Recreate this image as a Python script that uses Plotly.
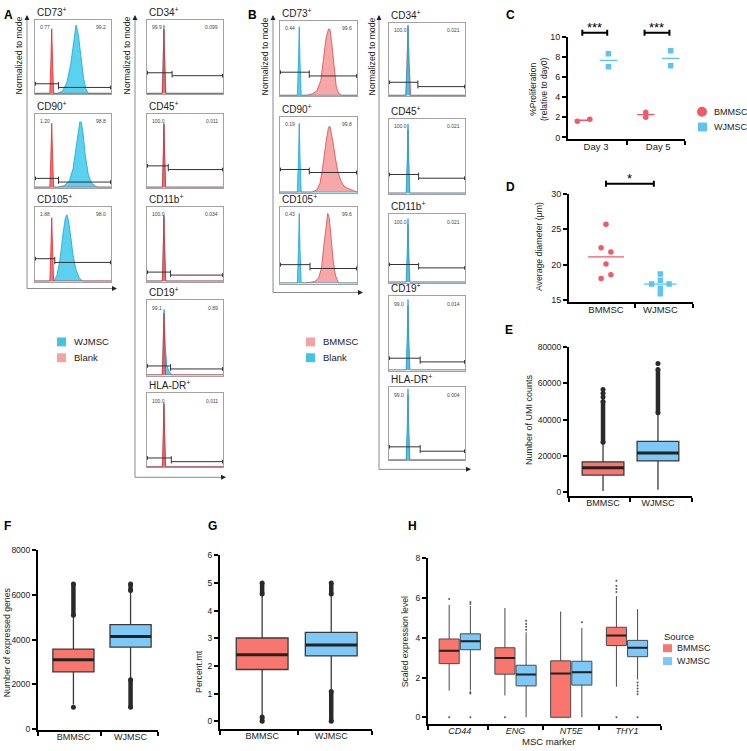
import numpy as np
import plotly.graph_objects as go

# ---------------- A: WJMSC flow cytometry (x = % of log window, y = % of mode) ----------------
a_markers = ["CD73", "CD90", "CD105", "CD34", "CD45", "CD11b", "CD19", "HLA-DR"]
a_pct_left = ["0.77", "1.20", "1.88", "99.9", "100.0", "100.0", "99.1", "100.0"]
a_pct_right = ["99.2", "98.8", "98.0", "0.099", "0.011", "0.034", "0.89", "0.011"]
a_gate_split = [31, 31, 26, 33, 28, 31, 31, 32]
a_gate_left = [13, 12, 30, 28, 29, 12, 12, 12]
a_gate_right = [8, 7, 25, 24, 24, 8, 8, 7]
a_wjmsc = {
    "CD73": ([0, 30, 36, 42, 47, 51, 54, 57, 61, 64, 67, 70, 100], [0, 0, 3, 15, 40, 75, 93, 80, 45, 20, 6, 0, 0]),
    "CD90": ([0, 30, 38, 45, 50, 54, 57, 59, 61, 63, 66, 70, 74, 80, 83, 100],
             [0, 0, 2, 8, 25, 55, 80, 89, 88, 75, 45, 18, 6, 1, 0, 0]),
    "CD105": ([0, 25, 29, 33, 37, 40, 42, 44, 47, 50, 54, 58, 62, 100], [0, 0, 8, 30, 65, 85, 89, 82, 60, 35, 15, 5, 0, 0]),
    "CD34": ([0, 20, 21.2, 22.3, 23.5, 25, 100], [0, 0, 45, 93, 40, 0, 0]),
    "CD45": ([0, 20.5, 21.5, 22.3, 23.2, 24.5, 100], [0, 0, 40, 85, 40, 0, 0]),
    "CD11b": ([0, 20.3, 21.3, 22.3, 23.3, 24.6, 100], [0, 0, 42, 89, 42, 0, 0]),
    "CD19": ([0, 20, 21.2, 22.5, 24, 26, 29, 33, 100], [0, 0, 40, 88, 40, 12, 5, 0, 0]),
    "HLA-DR": ([0, 20.5, 21.5, 22.3, 23.2, 24.5, 100], [0, 0, 40, 85, 40, 0, 0]),
}
a_blank = {
    "CD73": ([0, 19.5, 20.8, 22, 23.2, 24.5, 100], [0, 0, 40, 88, 40, 0, 0]),
    "CD90": ([0, 19.5, 20.8, 22, 23.2, 24.5, 100], [0, 0, 40, 87, 40, 0, 0]),
    "CD105": ([0, 19.5, 20.8, 22, 23.2, 24.5, 100], [0, 0, 40, 85, 40, 0, 0]),
    "CD34": ([0, 20.3, 21.3, 22.3, 23.3, 24.5, 100], [0, 0, 40, 87, 40, 0, 0]),
    "CD45": ([0, 20.3, 21.3, 22.3, 23.3, 24.5, 100], [0, 0, 40, 87, 40, 0, 0]),
    "CD11b": ([0, 20.3, 21.3, 22.3, 23.3, 24.5, 100], [0, 0, 40, 87, 40, 0, 0]),
    "CD19": ([0, 20.3, 21.3, 22.3, 23.3, 24.5, 100], [0, 0, 38, 83, 38, 0, 0]),
    "HLA-DR": ([0, 20.3, 21.3, 22.3, 23.3, 24.5, 100], [0, 0, 40, 87, 40, 0, 0]),
}

# ---------------- B: BMMSC flow cytometry ----------------
b_markers = a_markers
b_pct_left = ["0.44", "0.19", "0.43", "100.0", "100.0", "100.0", "99.0", "99.0"]
b_pct_right = ["99.6", "99.8", "99.6", "0.021", "0.021", "0.021", "0.014", "0.004"]
b_gate_split = [38, 38, 39, 38, 39, 39, 41, 41]
b_gate_left = [31, 30, 24, 18, 25, 26, 16, 18]
b_gate_right = [26, 26, 19, 12, 20, 21, 11, 12]
b_bmmsc = {
    "CD73": ([0, 35, 42, 48, 53, 57, 60, 63, 65, 67, 70, 73, 76, 80, 100],
             [0, 0, 2, 6, 20, 50, 78, 89, 88, 72, 40, 12, 3, 0, 0]),
    "CD90": ([0, 42, 48, 52, 55, 58, 60, 62, 63, 65, 67, 69, 72, 75, 79, 83, 88, 92, 96, 100],
             [0, 0, 3, 12, 30, 55, 68, 80, 86, 87, 78, 65, 45, 28, 15, 8, 5, 3, 1, 0]),
    "CD105": ([0, 32, 40, 45, 50, 54, 57, 60, 62, 64, 66, 69, 72, 76, 100],
              [0, 0, 1, 2, 6, 20, 50, 80, 91, 85, 60, 30, 10, 0, 0]),
    "CD34": ([0, 22, 23.5, 25, 26.5, 28.5, 100], [0, 0, 40, 95, 45, 0, 0]),
    "CD45": ([0, 23, 24.2, 25, 25.8, 27, 100], [0, 0, 35, 85, 35, 0, 0]),
    "CD11b": ([0, 23, 24.2, 25, 25.8, 27, 100], [0, 0, 35, 85, 35, 0, 0]),
    "CD19": ([0, 23, 24.2, 25, 25.8, 27, 100], [0, 0, 35, 88, 35, 0, 0]),
    "HLA-DR": ([0, 23, 24.2, 25, 25.8, 27, 100], [0, 0, 35, 90, 35, 0, 0]),
}
b_blank = {
    "CD73": ([0, 22.5, 24, 25, 26, 27.5, 100], [0, 0, 45, 92, 45, 0, 0]),
    "CD90": ([0, 22.5, 24, 25, 26, 27.5, 100], [0, 0, 45, 91, 45, 0, 0]),
    "CD105": ([0, 22.5, 24, 25, 26, 27.5, 100], [0, 0, 45, 91, 45, 0, 0]),
    "CD34": ([0, 22.5, 24, 25, 26, 27.5, 100], [0, 0, 45, 97, 45, 0, 0]),
    "CD45": ([0, 22.5, 24, 25, 26, 27.5, 100], [0, 0, 45, 93, 45, 0, 0]),
    "CD11b": ([0, 22.5, 24, 25, 26, 27.5, 100], [0, 0, 45, 94, 45, 0, 0]),
    "CD19": ([0, 22.5, 24, 25, 26, 27.5, 100], [0, 0, 45, 96, 45, 0, 0]),
    "HLA-DR": ([0, 22.5, 24, 25, 26, 27.5, 100], [0, 0, 45, 98, 45, 0, 0]),
}

# ---------------- C: proliferation ----------------
c_days = ["Day 3", "Day 5"]
c_bmmsc = [[1.6, 1.8], [2.5, 2.0]]
c_wjmsc = [[8.3, 7.0], [8.6, 7.1]]
c_sig = ["***", "***"]

# ---------------- D: cell diameter ----------------
d_groups = ["BMMSC", "WJMSC"]
d_bmmsc = [25.7, 22.4, 21.8, 20.1, 18.6, 18.05]
d_wjmsc = [18.7, 17.8, 17.3, 17.3, 16.7, 15.9]

# ---------------- E/F/G: QC box plots (q1, median, q3, whisker ends) ----------------
e_q1, e_med, e_q3 = [9500, 17300], [13500, 21600], [16800, 28100]
e_low, e_high = [800, 1500], [27600, 43800]
e_runs = [[(27600, 50000)], [(43800, 67500)]]
e_dots = [[52500, 54500, 56500], [70800]]

f_q1, f_med, f_q3 = [2560, 3670], [3100, 4150], [3580, 4680]
f_low, f_high = [1100, 2210], [5100, 6200]
f_runs = [[(5100, 6500)], [(6200, 6500), (980, 2210)]]
f_dots = [[980], []]

g_q1, g_med, g_q3 = [1.87, 2.36], [2.40, 2.76], [3.01, 3.21]
g_low, g_high = [0.18, 1.07], [4.6, 4.6]
g_runs = [[(4.6, 5.0), (0.0, 0.15)], [(4.6, 5.0), (0.0, 1.07)]]
g_dots = [[], []]

# ---------------- H: MSC marker expression ----------------
h_markers = ["CD44", "ENG", "NT5E", "THY1"]
h_bm_q1 = [2.70, 2.17, 0.0, 3.61]
h_bm_med = [3.35, 2.98, 2.20, 4.11]
h_bm_q3 = [3.94, 3.50, 2.84, 4.53]
h_bm_low = [1.34, 1.10, 0.0, 1.54]
h_bm_high = [5.65, 5.50, 5.32, 6.10]
h_bm_out = [[0.0, 5.95], [0.0], [], [0.0, 6.3, 6.45, 6.6, 6.87]]
h_wj_q1 = [3.40, 1.58, 1.62, 3.05]
h_wj_med = [3.83, 2.15, 2.27, 3.50]
h_wj_q3 = [4.20, 2.62, 2.82, 3.87]
h_wj_low = [1.35, 0.0, 0.0, 1.90]
h_wj_high = [5.60, 4.28, 4.50, 5.44]
h_wj_out = [[0.0, 1.2, 1.26, 5.7, 5.8], [4.4, 4.55, 4.7, 4.86], [4.78], [0.0, 1.16, 1.3, 1.45, 1.6, 1.75]]

# ---------------- styling ----------------
W, H = 747, 751
FONT = "Arial, Liberation Sans, sans-serif"
BM, WJ = "#EF5A66", "#5DC4EF"
BM_BOX, WJ_BOX = "#F8766D", "#7DC8F6"
CYAN = ("rgba(72,204,236,0.9)", "#19A6CF")
RED = ("rgba(238,105,105,0.92)", "#E22B2B")
PINK = ("rgba(245,162,162,0.95)", "#D84A4A")

fig = go.Figure()
lay, notes, shapes = {}, [], []


def px(x):
    return x / W


def py(y):
    return 1 - y / H


def add_axes(box, xa, ya):
    x0, x1, y0, y1 = box
    k = sum(1 for key in lay if key.startswith("xaxis")) + 1
    s = "" if k == 1 else str(k)
    lay["xaxis" + s] = dict(domain=[px(x0), px(x1)], anchor="y" + s, **xa)
    lay["yaxis" + s] = dict(domain=[py(y1), py(y0)], anchor="x" + s, **ya)
    return "x" + s, "y" + s


def text(x, y, s, size=9, **kw):
    d = dict(x=px(x), y=py(y), xref="paper", yref="paper", text=s, showarrow=False,
             xanchor="center", yanchor="middle", font=dict(size=size, color="#222", family=FONT))
    d.update(kw)
    notes.append(d)


def line(x0, y0, x1, y1, color="#8a8a8a", width=1, **kw):
    d = dict(type="line", x0=px(x0), y0=py(y0), x1=px(x1), y1=py(y1), xref="paper", yref="paper",
             line=dict(color=color, width=width))
    d.update(kw)
    shapes.append(d)


FRAME = dict(range=[-0.8, 100], showline=True, mirror=True, linecolor="#a2a2a2", linewidth=1, ticks="",
             showticklabels=False, showgrid=False, zeroline=False, layer="below traces")


def flow_panel(boxes, markers, back, front, back_col, front_col, pct_l, pct_r, split, lv_l, lv_r):
    for i, m in enumerate(markers):
        xa, ya = add_axes(boxes[i], dict(FRAME, range=[0, 100]), FRAME)
        for (xs, ys), (fc, lc) in ((back[m], back_col), (front[m], front_col)):
            fig.add_trace(go.Scatter(x=xs, y=ys, mode="lines", fill="tozeroy", fillcolor=fc,
                                     line=dict(color=lc, width=0.8), xaxis=xa, yaxis=ya,
                                     showlegend=False, hoverinfo="skip"))
        g, hi, lo, t = split[i], lv_l[i], lv_r[i], 2.5
        gx = [0.6, g, None, g, 99.4, None, 0.6, 0.6, None, g, g, None, 99.4, 99.4]
        gy = [hi, hi, None, lo, lo, None, hi - t, hi + t, None, lo - t, hi + t, None, lo - t, lo + t]
        fig.add_trace(go.Scatter(x=gx, y=gy, mode="lines", line=dict(color="#333", width=1),
                                 xaxis=xa, yaxis=ya, showlegend=False, hoverinfo="skip"))
        base = dict(xref=xa + " domain", yref=ya + " domain", showarrow=False)
        notes.append(dict(base, x=0, y=1, xanchor="left", yanchor="bottom", yshift=0,
                          text=m + "<sup>+</sup>", font=dict(size=10, color="#222", family=FONT)))
        notes.append(dict(base, x=0.04, y=0.97, xanchor="left", yanchor="top", text=pct_l[i],
                          font=dict(size=5, color="#444", family=FONT)))
        notes.append(dict(base, x=0.96, y=0.97, xanchor="right", yanchor="top", text=pct_r[i],
                          font=dict(size=5, color="#444", family=FONT)))


def flow_axis(x, ytop, ybot, xright):
    line(x, ybot, x, ytop + 3)
    line(x, ybot, xright - 3, ybot)
    notes.append(dict(x=px(x), y=py(ytop), xref="paper", yref="paper", ax=0, ay=6, text="",
                      showarrow=True, arrowhead=2, arrowsize=1, arrowwidth=1, arrowcolor="#222"))
    notes.append(dict(x=px(xright), y=py(ybot), xref="paper", yref="paper", ax=-6, ay=0, text="",
                      showarrow=True, arrowhead=2, arrowsize=1, arrowwidth=1, arrowcolor="#222"))


# ---- panel A ----
a_boxes = [(35, 111, 15, 90), (35, 111, 110, 185), (35, 111, 204, 280), (147, 223, 15, 90),
           (147, 223, 110, 185), (147, 223, 204, 280), (147, 223, 299, 375), (147, 223, 393, 468)]
flow_panel(a_boxes, a_markers, a_wjmsc, a_blank, CYAN, RED, a_pct_left, a_pct_right,
           a_gate_split, a_gate_left, a_gate_right)
flow_axis(27, 10, 287, 117)
flow_axis(135, 10, 478, 226)
for x in (19, 127):
    text(x, 51, "Normalized to mode", 8.7, textangle=-90)

# ---- panel B ----
b_boxes = [(280, 357, 16, 92), (280, 357, 113, 190), (280, 357, 204, 282), (389, 465, 18, 92),
           (389, 465, 115, 191), (389, 465, 212, 281), (389, 465, 295, 370), (389, 465, 387, 461)]
flow_panel(b_boxes, b_markers, b_bmmsc, b_blank, PINK, ("rgba(60,196,232,0.85)", "#19A6CF"),
           b_pct_left, b_pct_right, b_gate_split, b_gate_left, b_gate_right)
flow_axis(273, 10, 291, 363)
flow_axis(379, 10, 470, 471)
for x in (265, 372):
    text(x, 52, "Normalized to mode", 8.7, textangle=-90)

# legends for A and B
for (lx, items) in ((57, [("WJMSC", "#45C3E3"), ("Blank", "#F4A3A3")]),
                    (306, [("BMMSC", "#F4A3A3"), ("Blank", "#45C3E3")])):
    for k, (lab, col) in enumerate(items):
        yc = 341 + 16 * k
        shapes.append(dict(type="rect", xref="paper", yref="paper", x0=px(lx), x1=px(lx + 9),
                           y0=py(yc + 4.5), y1=py(yc - 4.5), fillcolor=col, line=dict(width=0)))
        text(lx + 15, yc, lab, 9.5, xanchor="left")

# ---- shared axis styles for C-H ----
TICKFONT = dict(size=8.5, color="#222", family=FONT)
MINOR = dict(ticks="outside", ticklen=4, tickwidth=1.5, tickcolor="black")
AX = dict(showline=True, linecolor="black", linewidth=2, ticks="", showgrid=False, zeroline=False,
          ticklabelstandoff=-3, tickfont=dict(size=9.5, color="#222", family=FONT))
AY = dict(showline=True, linecolor="black", linewidth=2, ticks="outside", ticklen=4, tickwidth=1.5,
          tickcolor="black", showgrid=False, zeroline=False, tickfont=TICKFONT)

# ---- panel C ----
xa, ya = add_axes((568, 685, 32, 136),
                  dict(AX, range=[-0.45, 1.43], tickvals=[0, 1], ticktext=c_days,
                       minor=dict(MINOR, tickvals=[0.5, 1.43])),
                  dict(AY, range=[-0.2, 10], tickvals=list(range(0, 11, 2)), tickfont=dict(TICKFONT, size=9)))
c_bm_jit, c_wj_jit = [[-0.1, 0.1], [0, 0]], [[0, 0], [0, 0]]
for d in range(2):
    for vals, jit, off, col, sym in ((c_bmmsc[d], c_bm_jit[d], -0.2, BM, "circle"),
                                     (c_wjmsc[d], c_wj_jit[d], 0.2, WJ, "square")):
        fig.add_trace(go.Scatter(x=[d + off + j for j in jit], y=vals, mode="markers",
                                 marker=dict(color=col, size=5.5, symbol=sym), xaxis=xa, yaxis=ya,
                                 showlegend=False, hoverinfo="skip"))
        m = float(np.mean(vals))
        fig.add_trace(go.Scatter(x=[d + off - 0.14, d + off + 0.14], y=[m, m], mode="lines",
                                 line=dict(color=col, width=1.3), xaxis=xa, yaxis=ya,
                                 showlegend=False, hoverinfo="skip"))
    shapes.append(dict(type="path", xref=xa, yref="paper", line=dict(color="black", width=2),
                       path=f"M{d - 0.22},{py(25)} L{d - 0.22},{py(31)} M{d - 0.22},{py(28)} "
                            f"L{d + 0.18},{py(28)} M{d + 0.18},{py(25)} L{d + 0.18},{py(31)}"))
    notes.append(dict(x=d - 0.02, y=py(23), xref=xa, yref="paper", text=c_sig[d], showarrow=False,
                      font=dict(size=13, color="black", family=FONT), yanchor="middle"))
text(539, 86, "%Proliferation<br>(relative to day0)", 8.5, textangle=-90)
shapes.append(dict(type="circle", xref="paper", yref="paper", x0=px(697), x1=px(707), y0=py(113),
                   y1=py(103), fillcolor=BM, line=dict(width=0)))
shapes.append(dict(type="rect", xref="paper", yref="paper", x0=px(698), x1=px(707), y0=py(128),
                   y1=py(119), fillcolor=WJ, line=dict(width=0)))
text(712, 108, "BMMSC", 9, xanchor="left")
text(712, 123, "WJMSC", 9, xanchor="left")

# ---- panel D ----
xa, ya = add_axes((569, 693, 191, 301),
                  dict(AX, range=[-0.68, 1.6], tickvals=[0, 1], ticktext=d_groups,
                       minor=dict(MINOR, tickvals=[0.54, 1.6])),
                  dict(AY, range=[14.7, 30], tickvals=[15, 20, 25, 30], tickfont=dict(TICKFONT, size=9)))
d_bm_jit = [0, -0.09, 0.09, 0, 0.09, -0.09]
d_wj_jit = [0, 0, -0.16, 0.16, 0, 0]
for i, (vals, jit, col, sym, hw) in enumerate(((d_bmmsc, d_bm_jit, BM, "circle", 0.33),
                                               (d_wjmsc, d_wj_jit, WJ, "square", 0.3))):
    fig.add_trace(go.Scatter(x=[i + j for j in jit], y=vals, mode="markers",
                             marker=dict(color=col, size=5.5, symbol=sym), xaxis=xa, yaxis=ya,
                             showlegend=False, hoverinfo="skip"))
    m = float(np.mean(vals))
    fig.add_trace(go.Scatter(x=[i - hw, i + hw], y=[m, m], mode="lines", line=dict(color=col, width=1.3),
                             xaxis=xa, yaxis=ya, showlegend=False, hoverinfo="skip"))
shapes.append(dict(type="path", xref=xa, yref="paper", line=dict(color="black", width=2),
                   path=f"M0,{py(178)} L0,{py(184)} M0,{py(181)} L0.88,{py(181)} M0.88,{py(178)} L0.88,{py(184)}"))
notes.append(dict(x=0.44, y=py(176), xref=xa, yref="paper", text="*", showarrow=False,
                  font=dict(size=13, color="black", family=FONT), yanchor="middle"))
text(539, 245, "Average diameter (μm)", 8.7, textangle=-90)


# ---- E/F/G ----
def box_panel(box, yr, yt, xr, mid, q1, med, q3, lo, hi, runs, dots, width, fmt=None):
    ya_kw = dict(AY, range=yr, tickvals=yt)
    if fmt:
        ya_kw["tickformat"] = fmt
    xa, ya = add_axes(box, dict(AX, range=xr, tickvals=[0, 1], ticktext=d_groups,
                                tickfont=dict(size=9, color="#222", family=FONT),
                                minor=dict(MINOR, tickvals=[xr[0], mid, xr[1]])), ya_kw)
    for i, col in enumerate((BM_BOX, WJ_BOX)):
        fig.add_trace(go.Box(x=[i], q1=[q1[i]], median=[med[i]], q3=[q3[i]], lowerfence=[lo[i]],
                             upperfence=[hi[i]], width=width, fillcolor=col,
                             line=dict(color="#3a3a3a", width=1.3), whiskerwidth=0, boxpoints=False,
                             xaxis=xa, yaxis=ya, showlegend=False, hoverinfo="skip"))
        fig.add_trace(go.Scatter(x=[i - width / 2, i + width / 2], y=[med[i], med[i]], mode="lines",
                                 line=dict(color="#222", width=3), xaxis=xa, yaxis=ya,
                                 showlegend=False, hoverinfo="skip"))
        for a, b in runs[i]:
            fig.add_trace(go.Scatter(x=[i, i], y=[a, b], mode="lines+markers",
                                     line=dict(color="#2a2a2a", width=4.5), marker=dict(color="#2a2a2a", size=5),
                                     xaxis=xa, yaxis=ya, showlegend=False, hoverinfo="skip"))
        if dots[i]:
            fig.add_trace(go.Scatter(x=[i] * len(dots[i]), y=dots[i], mode="markers",
                                     marker=dict(color="#2a2a2a", size=5), xaxis=xa, yaxis=ya,
                                     showlegend=False, hoverinfo="skip"))


box_panel((569, 692, 346, 497), [-2000, 80000], [0, 20000, 40000, 60000, 80000], [-0.62, 1.62], 0.49,
          e_q1, e_med, e_q3, e_low, e_high, e_runs, e_dots, 0.76, "d")
text(529, 420, "Number of UMI counts", 9, textangle=-90)
box_panel((38, 158, 552, 734), [-50, 8000], [0, 2000, 4000, 6000, 8000], [-0.62, 1.48], 0.48,
          f_q1, f_med, f_q3, f_low, f_high, f_runs, f_dots, 0.72, "d")
text(7, 645, "Number of expressed genes", 8.7, textangle=-90)
box_panel((220, 372, 557, 733), [-0.29, 6], [0, 1, 2, 3, 4, 5, 6], [-0.61, 1.59], 0.52,
          g_q1, g_med, g_q3, g_low, g_high, g_runs, g_dots, 0.75)
text(199, 675, "Percent.mt", 8.7, textangle=-90)

# ---- panel H ----
xa, ya = add_axes((428, 661, 560, 728),
                  dict(AX, range=[-0.57, 3.61], tickvals=list(range(4)),
                       ticktext=[f"<i>{m}</i>" for m in h_markers],
                       tickfont=dict(size=9, color="#222", family=FONT),
                       minor=dict(MINOR, tickvals=[-0.57, 0.5, 1.5, 2.5, 3.61])),
                  dict(AY, range=[-0.35, 8], tickvals=[0, 2, 4, 6, 8]))
hw = 0.36
for off, col, q1, med, q3, lo, hi, outs in ((-0.19, BM_BOX, h_bm_q1, h_bm_med, h_bm_q3, h_bm_low, h_bm_high, h_bm_out),
                                            (0.19, WJ_BOX, h_wj_q1, h_wj_med, h_wj_q3, h_wj_low, h_wj_high, h_wj_out)):
    pos = [k + off for k in range(4)]
    fig.add_trace(go.Box(x=pos, q1=q1, median=med, q3=q3, lowerfence=lo, upperfence=hi, width=hw,
                         fillcolor=col, line=dict(color="#4a4a4a", width=1), whiskerwidth=0,
                         boxpoints=False, xaxis=xa, yaxis=ya, showlegend=False, hoverinfo="skip"))
    mx, my = [], []
    for p, m in zip(pos, med):
        mx += [p - hw / 2, p + hw / 2, None]
        my += [m, m, None]
    fig.add_trace(go.Scatter(x=mx, y=my, mode="lines", line=dict(color="#222", width=2),
                             xaxis=xa, yaxis=ya, showlegend=False, hoverinfo="skip"))
    ox = [p for p, o in zip(pos, outs) for _ in o]
    oy = [v for o in outs for v in o]
    fig.add_trace(go.Scatter(x=ox, y=oy, mode="markers", marker=dict(color="#555", size=2),
                             xaxis=xa, yaxis=ya, showlegend=False, hoverinfo="skip"))
text(405, 645, "Scaled expression level", 8.7, textangle=-90)
text(548, 745, "MSC marker", 9.5)
text(662, 639, "Source", 9.5, xanchor="left")
for k, (lab, col) in enumerate((("BMMSC", BM_BOX), ("WJMSC", WJ_BOX))):
    yc = 651 + 13 * k
    shapes.append(dict(type="rect", xref="paper", yref="paper", x0=px(663), x1=px(672),
                       y0=py(yc + 4), y1=py(yc - 4), fillcolor=col, line=dict(width=0)))
    text(675, yc, lab, 9, xanchor="left")

# ---- panel letters ----
for lab, x, y in (("A", 2, 1), ("B", 246, 1), ("C", 504, 1), ("D", 504, 175), ("E", 503, 320),
                  ("F", 2, 518), ("G", 206, 518), ("H", 406, 518)):
    text(x, y, f"<b>{lab}</b>", 12, xanchor="left", yanchor="top", font=dict(size=12, color="black", family=FONT))

fig.update_layout(width=W, height=H, margin=dict(l=0, r=0, t=0, b=0), paper_bgcolor="white",
                  plot_bgcolor="rgba(0,0,0,0)", showlegend=False, font=dict(family=FONT),
                  annotations=notes, shapes=shapes, boxmode="overlay", **lay)
# the page body has a default margin; drop it so the figure sits at the window's corner
fig.write_html("out.html", config={"displayModeBar": False},
               post_script="document.body.style.margin='0px';")
